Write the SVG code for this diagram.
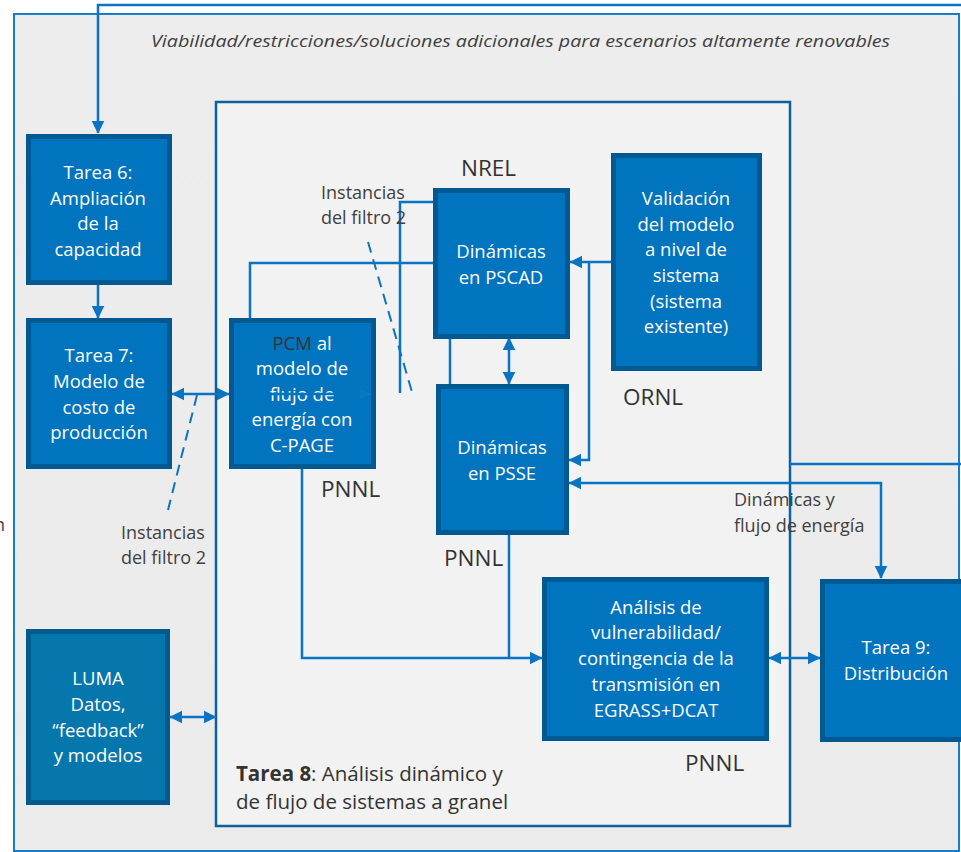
<svg xmlns="http://www.w3.org/2000/svg" width="961" height="852" viewBox="0 0 961 852">
<defs>
<marker id="ah" viewBox="0 0 10 10" refX="9.5" refY="5" markerWidth="13" markerHeight="14" markerUnits="userSpaceOnUse" orient="auto-start-reverse">
<path d="M0,0 L10,5 L0,10 z" fill="#0a74c2"/>
</marker>
<linearGradient id="bg" x1="0" y1="0" x2="0" y2="1">
<stop offset="0" stop-color="#ededed"/>
<stop offset="1" stop-color="#ebebeb"/>
</linearGradient>
</defs>
<style>
.box{fill:#0074bf;stroke:#005a91;stroke-width:5}
.luma{fill:#0677ad;stroke:#005a8c;stroke-width:5}
.bt{font-family:"Open Sans","Liberation Sans",sans-serif;font-size:18.5px;fill:#ffffff;text-anchor:middle}
.lbl{font-family:"Open Sans","Liberation Sans",sans-serif;font-size:18px;fill:#404040}
.org{font-family:"Open Sans","Liberation Sans",sans-serif;font-size:22.5px;fill:#333333}
.c{fill:none;stroke:#0a74c2;stroke-width:2.5}
.d{fill:none;stroke:#0a74c2;stroke-width:2;stroke-dasharray:11,7}
</style>
<rect width="961" height="852" fill="#ffffff"/>
<g id="outer">
<rect x="14" y="14" width="945" height="837" fill="url(#bg)" stroke="#1a7cc8" stroke-width="2"/>
<text x="151" y="47" font-family="'Open Sans','Liberation Sans',sans-serif" font-size="16.5px" font-style="italic" fill="#404040" textLength="739" lengthAdjust="spacingAndGlyphs">Viabilidad/restricciones/soluciones adicionales para escenarios altamente renovables</text>
</g>
<g id="tarea8">
<rect x="216" y="102" width="574" height="724" fill="#f2f2f2" stroke="#0a62a0" stroke-width="2.5"/>
<text x="236" y="781" font-family="'Open Sans','Liberation Sans',sans-serif" font-size="20.5px" fill="#333333"><tspan font-weight="bold">Tarea 8</tspan>: Análisis dinámico y</text>
<text x="236" y="809" font-family="'Open Sans','Liberation Sans',sans-serif" font-size="20.5px" fill="#333333">de flujo de sistemas a granel</text>
</g>
<g id="connectors">
<path class="c" d="M790,464 H968 V5 H98 V133" marker-end="url(#ah)"/>
<path class="c" d="M98,285 V318" marker-end="url(#ah)"/>
<path class="c" d="M172,394 H229" marker-start="url(#ah)" marker-end="url(#ah)"/>
<path class="c" d="M250,318 V263 H433"/>
<path class="c" d="M400,393 V202 H433"/>
<path class="c" d="M611,262 H570" marker-end="url(#ah)"/>
<path class="c" d="M589,262 V460 H569" marker-end="url(#ah)"/>
<path class="c" d="M509,338 V384" marker-start="url(#ah)" marker-end="url(#ah)"/>
<path class="c" d="M450,338 V384"/>
<path class="c" d="M569,483 H881 V578" marker-start="url(#ah)" marker-end="url(#ah)"/>
<path class="c" d="M302,469 V658 H542" marker-end="url(#ah)"/>
<path class="c" d="M509,535 V658"/>
<path class="c" d="M769,658 H820" marker-start="url(#ah)" marker-end="url(#ah)"/>
<path class="c" d="M170,717 H216" marker-start="url(#ah)" marker-end="url(#ah)"/>
<path class="d" d="M197,395 L168,510"/>
<path class="d" d="M368,242 L412,392"/>
</g>
<g id="tarea6">
<rect class="box" x="28.5" y="136.5" width="141" height="146"/>
<text class="bt" x="98" y="179">Tarea 6:</text>
<text class="bt" x="98" y="205">Ampliación</text>
<text class="bt" x="98" y="230">de la</text>
<text class="bt" x="98" y="256">capacidad</text>
</g>
<g id="tarea7">
<rect class="box" x="28.5" y="320.5" width="141" height="146"/>
<text class="bt" x="99" y="362">Tarea 7:</text>
<text class="bt" x="99" y="388">Modelo de</text>
<text class="bt" x="99" y="414">costo de</text>
<text class="bt" x="99" y="439">producción</text>
</g>
<g id="pcm">
<rect class="box" x="231.5" y="320.5" width="142" height="146"/>
<text class="bt" x="302" y="350"><tspan fill="#333333">PCM</tspan> al</text>
<text class="bt" x="302" y="375">modelo de</text>
<text class="bt" x="302" y="401">flujo de</text>
<text class="bt" x="302" y="426">energía con</text>
<text class="bt" x="302" y="452">C-PAGE</text>
<path d="M234,394 H366" stroke="#0074bf" stroke-width="2.5" fill="none"/>
<path d="M360,389 L372,394 L360,399 z" fill="#0a78c4"/>
<text class="org" x="321" y="497">PNNL</text>
</g>
<g id="pscad">
<rect class="box" x="435.5" y="190.5" width="132" height="146"/>
<text class="bt" x="501" y="258">Dinámicas</text>
<text class="bt" x="501" y="284">en PSCAD</text>
<text class="org" x="461" y="176">NREL</text>
</g>
<g id="psse">
<rect class="box" x="438.5" y="386.5" width="128" height="146"/>
<text class="bt" x="502" y="454">Dinámicas</text>
<text class="bt" x="502" y="480">en PSSE</text>
<text class="org" x="444" y="566">PNNL</text>
</g>
<g id="validacion">
<rect class="box" x="613.5" y="155.5" width="146" height="213"/>
<text class="bt" x="686" y="205">Validación</text>
<text class="bt" x="686" y="231">del modelo</text>
<text class="bt" x="686" y="256">a nivel de</text>
<text class="bt" x="686" y="282">sistema</text>
<text class="bt" x="686" y="308">(sistema</text>
<text class="bt" x="686" y="333">existente)</text>
<text class="org" x="623" y="405">ORNL</text>
</g>
<g id="analisis">
<rect class="box" x="544.5" y="579.5" width="222" height="159"/>
<text class="bt" x="656" y="614">Análisis de</text>
<text class="bt" x="656" y="639">vulnerabilidad/</text>
<text class="bt" x="656" y="665">contingencia de la</text>
<text class="bt" x="656" y="691">transmisión en</text>
<text class="bt" x="656" y="717">EGRASS+DCAT</text>
<text class="org" x="685" y="771">PNNL</text>
</g>
<g id="tarea9">
<rect class="box" x="822.5" y="581.5" width="150" height="158"/>
<text class="bt" x="896" y="654">Tarea 9:</text>
<text class="bt" x="896" y="680">Distribución</text>
</g>
<g id="luma">
<rect class="luma" x="28.5" y="631.5" width="139" height="171"/>
<text class="bt" x="98" y="685">LUMA</text>
<text class="bt" x="98" y="711">Datos,</text>
<text class="bt" x="98" y="737">“feedback”</text>
<text class="bt" x="98" y="762">y modelos</text>
</g>
<g id="labels">
<text class="lbl" x="321" y="199">Instancias</text>
<text class="lbl" x="321" y="224">del filtro 2</text>
<text class="lbl" x="121" y="539">Instancias</text>
<text class="lbl" x="121" y="564">del filtro 2</text>
<text class="lbl" x="734" y="506">Dinámicas y</text>
<text class="lbl" x="734" y="532">flujo de energía</text>
<text class="lbl" x="-6" y="531">n</text>
</g>
</svg>
